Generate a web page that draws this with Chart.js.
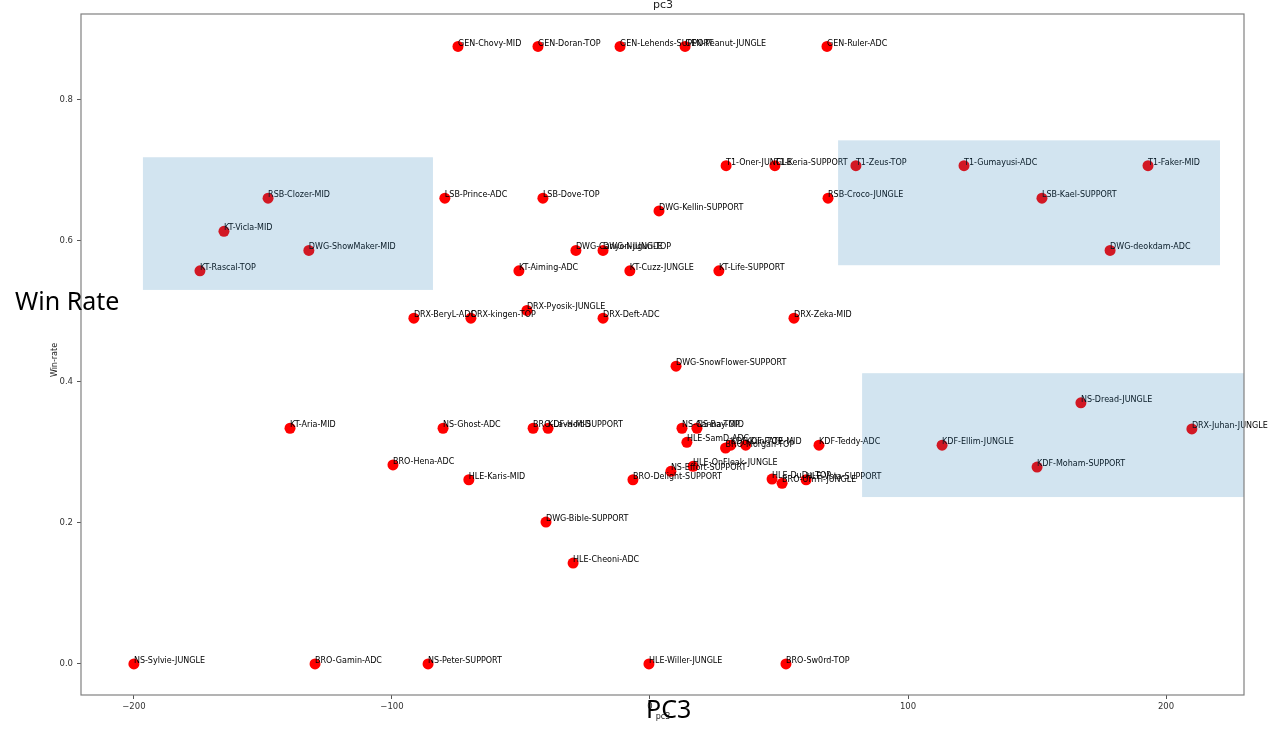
<!DOCTYPE html>
<html>
<head>
<meta charset="utf-8">
<script src="https://cdn.jsdelivr.net/npm/chart.js@4.4.1/dist/chart.umd.min.js"></script>
<style>
  body { margin: 0; background: #fff; }
  #wrap { position: relative; width: 1280px; height: 738px; }
  .big { position: absolute; font-family: "Noto Sans", sans-serif; font-size: 25px; color: #000; line-height: 1; }
</style>
</head>
<body>
<div id="wrap">
  <canvas id="chart"></canvas>
  <div class="big" style="left:15px; top:288px;">Win Rate</div>
  <div class="big" style="left:646px; top:696px;">PC3</div>
</div>
<script>
// --- données ---
const joueurs = [
  'GEN-Chovy-MID', 'GEN-Doran-TOP', 'GEN-Lehends-SUPPORT', 'GEN-Peanut-JUNGLE', 'GEN-Ruler-ADC',
  'T1-Oner-JUNGLE', 'T1-Keria-SUPPORT', 'T1-Zeus-TOP', 'T1-Gumayusi-ADC', 'T1-Faker-MID',
  'RSB-Clozer-MID', 'LSB-Prince-ADC', 'LSB-Dove-TOP', 'RSB-Croco-JUNGLE', 'LSB-Kael-SUPPORT',
  'DWG-Kellin-SUPPORT', 'KT-Vicla-MID', 'DWG-ShowMaker-MID', 'DWG-Canyon-JUNGLE', 'DWG-Nuguri-TOP',
  'DWG-deokdam-ADC', 'KT-Rascal-TOP', 'KT-Aiming-ADC', 'KT-Cuzz-JUNGLE', 'KT-Life-SUPPORT',
  'DRX-Pyosik-JUNGLE', 'DRX-BeryL-ADC', 'DRX-kingen-TOP', 'DRX-Deft-ADC', 'DRX-Zeka-MID',
  'DWG-SnowFlower-SUPPORT', 'NS-Dread-JUNGLE', 'KT-Aria-MID', 'NS-Ghost-ADC', 'BRO-Lava-MID',
  'KDF-Hoit-SUPPORT', 'NS-Canna-TOP', 'NS-Bay-MID', 'DRX-Juhan-JUNGLE', 'HLE-SamD-ADC',
  'BRO-Morgan-TOP', 'KDF-Kiin-TOP', 'KDF-FATE-MID', 'KDF-Teddy-ADC', 'KDF-Ellim-JUNGLE',
  'BRO-Hena-ADC', 'HLE-OnFleak-JUNGLE', 'KDF-Moham-SUPPORT', 'NS-Effort-SUPPORT', 'HLE-Karis-MID',
  'BRO-Delight-SUPPORT', 'HLE-DuDu-TOP', 'BRO-UmTi-JUNGLE', 'HLE-Vsta-SUPPORT', 'DWG-Bible-SUPPORT',
  'HLE-Cheoni-ADC', 'NS-Sylvie-JUNGLE', 'BRO-Gamin-ADC', 'NS-Peter-SUPPORT', 'HLE-Willer-JUNGLE',
  'BRO-Sw0rd-TOP'
];
const pc3 = [
  -74.4, -43.4, -11.6, 13.6, 68.6,
  29.5, 48.4, 79.8, 121.7, 193.0,
  -148.0, -79.5, -41.5, 69.0, 151.9,
  3.5, -165.1, -132.2, -28.7, -18.2,
  178.3, -174.4, -50.8, -7.8, 26.7,
  -47.7, -91.5, -69.4, -18.2, 55.8,
  10.1, 167.0, -139.5, -80.2, -45.3,
  -39.5, 12.4, 18.2, 210.0, 14.3,
  29.3, 31.3, 37.1, 65.5, 113.2,
  -99.6, 16.7, 150.0, 8.1, -70.2,
  -6.6, 47.3, 51.2, 60.5, -40.3,
  -29.8, -200.0, -129.8, -86.0, -0.4,
  52.7
];
const winRate = [
  0.875, 0.875, 0.875, 0.875, 0.875,
  0.706, 0.706, 0.706, 0.706, 0.706,
  0.660, 0.660, 0.660, 0.660, 0.660,
  0.642, 0.613, 0.586, 0.586, 0.586,
  0.586, 0.557, 0.557, 0.557, 0.557,
  0.501, 0.490, 0.490, 0.490, 0.490,
  0.422, 0.370, 0.334, 0.334, 0.334,
  0.334, 0.334, 0.334, 0.333, 0.314,
  0.306, 0.310, 0.310, 0.310, 0.310,
  0.282, 0.280, 0.279, 0.273, 0.261,
  0.261, 0.262, 0.256, 0.261, 0.201,
  0.143, 0.0, 0.0, 0.0, 0.0,
  0.0
];

// zones surlignées (coordonnées des données)
const zonesX0 = [-196.5, 72.9, 82.2];
const zonesX1 = [-84.1, 220.9, 232];
const zonesY0 = [0.530, 0.565, 0.2365];
const zonesY1 = [0.718, 0.742, 0.412];

const xTicks = [-200, -100, 0, 100, 200];
const yTicks = [0.0, 0.2, 0.4, 0.6, 0.8];

const X_MIN = -220.5, X_MAX = 230.2;
const Y_MIN = -0.044, Y_MAX = 0.921;

// --- plugin : étiquettes, zones et cadre ---
const decorPlugin = {
    id: 'decor',
    afterDatasetsDraw(chart) {
        const { ctx, chartArea: a, scales: { x, y } } = chart;

        // étiquettes (non coupées, comme matplotlib)
        ctx.save();
        ctx.font = '8px "DejaVu Sans"';
        ctx.fillStyle = '#000';
        ctx.textAlign = 'left';
        ctx.textBaseline = 'middle';
        joueurs.forEach((nom, i) => {
            ctx.fillText(nom, x.getPixelForValue(pc3[i]), y.getPixelForValue(winRate[i]) - 3);
        });
        ctx.restore();

        // zones, coupées au cadre
        ctx.save();
        ctx.beginPath();
        ctx.rect(a.left, a.top, a.right - a.left, a.bottom - a.top);
        ctx.clip();
        ctx.fillStyle = 'rgba(31, 119, 180, 0.2)';
        zonesX0.forEach((x0, i) => {
            const px0 = x.getPixelForValue(x0);
            const px1 = x.getPixelForValue(zonesX1[i]);
            const py0 = y.getPixelForValue(zonesY1[i]);
            const py1 = y.getPixelForValue(zonesY0[i]);
            ctx.fillRect(px0, py0, px1 - px0, py1 - py0);
        });
        ctx.restore();

        // cadre + titres
        ctx.save();
        ctx.strokeStyle = '#808080';
        ctx.lineWidth = 1.2;
        ctx.strokeRect(a.left, a.top, a.right - a.left, a.bottom - a.top);

        ctx.fillStyle = '#222';
        ctx.textAlign = 'center';
        ctx.textBaseline = 'middle';
        ctx.font = '11px "DejaVu Sans"';
        ctx.fillText('pc3', (a.left + a.right) / 2 + 0.5, 5);
        ctx.font = '8px "DejaVu Sans"';
        ctx.fillText('pc3', 663, 717);
        ctx.translate(55, 360);
        ctx.rotate(-Math.PI / 2);
        ctx.fillText('Win-rate', 0, 0);
        ctx.restore();
    }
};

const points = pc3.map((v, i) => ({ x: v, y: winRate[i] }));

new Chart(document.getElementById('chart'), {
    type: 'scatter',
    data: {
        datasets: [{
            data: points,
            backgroundColor: '#ff0000',
            borderWidth: 0,
            pointRadius: 5.5,
            pointHoverRadius: 5.5
        }]
    },
    options: {
        responsive: true,
        maintainAspectRatio: false,
        animation: false,
        layout: { padding: { top: 14, right: 36, left: 0, bottom: 0 } },
        plugins: {
            legend: { display: false },
            tooltip: { enabled: false }
        },
        scales: {
            x: {
                type: 'linear',
                min: X_MIN,
                max: X_MAX,
                afterBuildTicks: axis => { axis.ticks = xTicks.map(v => ({ value: v })); },
                afterFit: axis => { axis.height = 43; },
                border: { display: false },
                grid: { drawOnChartArea: false, drawTicks: true, tickLength: 4, color: '#555' },
                ticks: {
                    font: { family: 'DejaVu Sans', size: 8.5 },
                    color: '#333',
                    padding: 3,
                    maxRotation: 0,
                    callback: v => (v < 0 ? '\u2212' + Math.abs(v) : '' + v)
                }
            },
            y: {
                type: 'linear',
                min: Y_MIN,
                max: Y_MAX,
                afterBuildTicks: axis => { axis.ticks = yTicks.map(v => ({ value: v })); },
                afterFit: axis => { axis.width = 81; },
                border: { display: false },
                grid: { drawOnChartArea: false, drawTicks: true, tickLength: 4, color: '#555' },
                ticks: {
                    font: { family: 'DejaVu Sans', size: 8.5 },
                    color: '#333',
                    padding: 4,
                    callback: v => v.toFixed(1)
                }
            }
        }
    },
    plugins: [decorPlugin]
});
</script>
</body>
</html>
